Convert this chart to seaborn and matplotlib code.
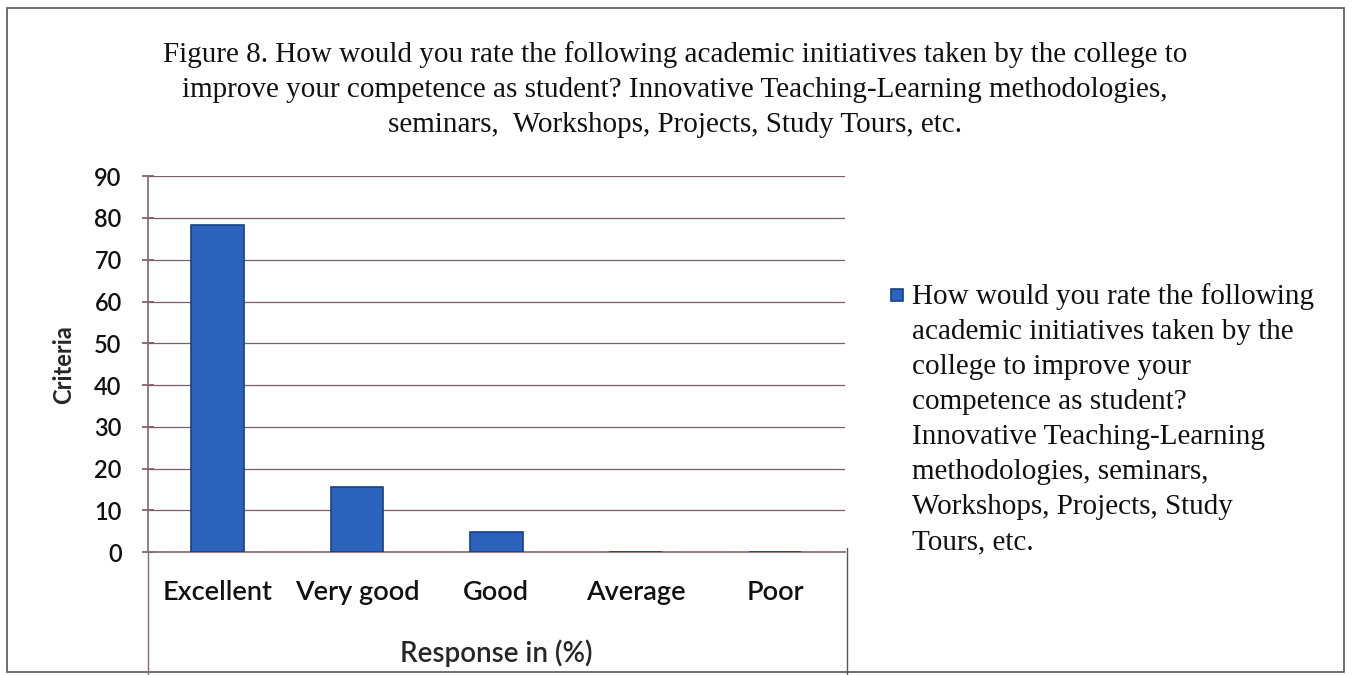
import pandas as pd
import matplotlib.pyplot as plt
import seaborn as sns
from matplotlib.lines import Line2D
from matplotlib.patches import Rectangle
from matplotlib.container import BarContainer
from matplotlib.legend_handler import HandlerPatch, update_from_first_child

categories = ["Excellent", "Very good", "Good", "Average", "Poor"]
responses = [78.4, 15.6, 4.9, 0, 0]
y_ticks = [0, 10, 20, 30, 40, 50, 60, 70, 80, 90]

title = ("Figure 8. How would you rate the following academic initiatives taken by the college to\n"
         "improve your competence as student? Innovative Teaching-Learning methodologies,\n"
         "seminars,  Workshops, Projects, Study Tours, etc.")
series_name = ("How would you rate the following\n"
               "academic initiatives taken by the\n"
               "college to improve your\n"
               "competence as student?\n"
               "Innovative Teaching-Learning\n"
               "methodologies, seminars,\n"
               "Workshops, Projects, Study\n"
               "Tours, etc.")

df = pd.DataFrame({"cat": categories, "val": responses})

sns.set_theme(style="white")
plt.rcParams['font.family'] = ['Lato', 'DejaVu Sans']
serif = ['Liberation Serif', 'DejaVu Serif']

fig = plt.figure(figsize=(13.58, 6.75), dpi=100)
ax = fig.add_axes([0.109, 0.182, 0.513, 0.557])

sns.barplot(data=df, x="cat", y="val", ax=ax, color="#2b63bd", width=0.38,
            edgecolor="#173f86", linewidth=1.2, saturation=1, label=series_name, zorder=3)

ax.set_ylim(0, 90)
ax.set_xlim(-0.5, 4.5)
ax.set_yticks(y_ticks)
ax.yaxis.grid(True, color="#7d5d63", linewidth=0.9, zorder=0)
ax.tick_params(axis="y", labelsize=17, length=8, direction="inout", color="#7d5d63",
               left=True, pad=15)
ax.tick_params(axis="x", labelsize=19.5, length=0, pad=20)
for lab in ax.get_yticklabels() + ax.get_xticklabels():
    lab.set_color("#111111")
    lab.set_fontweight("semibold")

for side in ["top", "right"]:
    ax.spines[side].set_visible(False)
ax.spines["left"].set_color("#8a6a70")
ax.spines["bottom"].set_color("#8a6a70")

ax.set_ylabel("Criteria", fontsize=17, fontweight="bold", labelpad=14)
ax.set_xlabel("Response in (%)", fontsize=20, fontweight="semibold", labelpad=25)

# extended frame lines under the plot and the outer border
fig.add_artist(Line2D([0.109, 0.109], [0.0, 0.182], color="#8a6a70", lw=1))
fig.add_artist(Line2D([0.624, 0.624], [0.0, 0.188], color="#555555", lw=1))
fig.add_artist(Rectangle((0.005, 0.005), 0.985, 0.983, fill=False, edgecolor="#555555", lw=1.2))

fig.text(0.497, 0.868, title, ha="center", va="center", fontsize=21,
         family=serif, linespacing=1.45, color="#111111")


# legend square sits on the first text line, like the office chart
def top_square(legend, orig_handle, xdescent, ydescent, width, height, fontsize):
    s = 0.42 * fontsize
    return Rectangle((-xdescent, -ydescent + height - s + 0.955 * fontsize), s, s)


ax.legend(loc="upper left", bbox_to_anchor=(0.6455, 0.602), bbox_transform=fig.transFigure,
          frameon=False, prop={"family": serif, "size": 21}, handlelength=0.42,
          handleheight=11.2, handletextpad=0.3, borderpad=0, labelspacing=0,
          handler_map={BarContainer: HandlerPatch(patch_func=top_square,
                                                  update_func=update_from_first_child)})
leg = ax.get_legend()
for t in leg.get_texts():
    t.set_linespacing(1.45)
    t.set_color("#111111")
for h in leg.legend_handles:
    h.set_edgecolor("#173f86")
    h.set_facecolor("#2b63bd")

fig.savefig("out.png", dpi=100)
